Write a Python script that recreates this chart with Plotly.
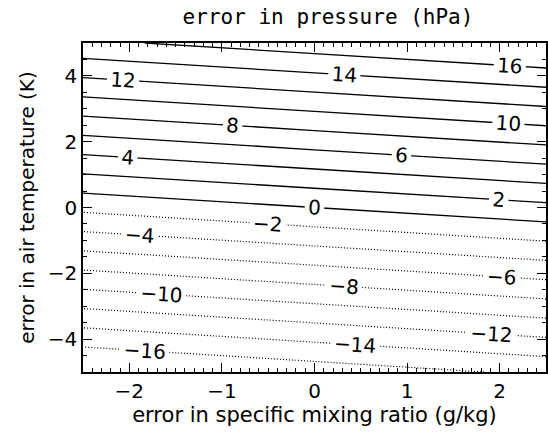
import plotly.graph_objects as go

# error in specific mixing ratio (g/kg)
q_err = [-2.5, 0.0, 2.5]
# error in air temperature (K)
t_err = [-5.0, 0.0, 5.0]
# error in pressure (hPa), rows follow t_err
p_err = [
    [-18.6, -17.1, -15.6],
    [-1.5, 0.0, 1.5],
    [15.6, 17.1, 18.6],
]
neg_levels = (-16, -2, 2)
pos_levels = (0, 16, 2)

FONT = "DejaVu Sans"

fig = go.Figure()
for (start, end, size), dash in [(neg_levels, "1px,2px"), (pos_levels, "solid")]:
    fig.add_trace(go.Contour(
        x=q_err, y=t_err, z=p_err,
        autocontour=False,
        contours=dict(start=start, end=end, size=size, coloring="none",
                      showlabels=True,
                      labelfont=dict(family=FONT, size=20, color="black")),
        line=dict(color="black", width=1.3 if dash == "solid" else 1.2, dash=dash),
        showscale=False, hoverinfo="skip",
    ))

axis_common = dict(
    showgrid=False, zeroline=False, showline=True, linecolor="black", linewidth=1.5,
    mirror="ticks", ticks="inside", ticklen=9, tickwidth=1, tickcolor="black",
    automargin=False,
    tickfont=dict(family=FONT, size=20, color="black"),
)
fig.update_xaxes(range=[-2.5, 2.5], dtick=1, tick0=0,
                 minor=dict(dtick=0.1, ticks="inside", ticklen=4, tickcolor="black"),
                 title=dict(text="error in specific mixing ratio (g/kg)", standoff=6,
                            font=dict(family=FONT, size=21, color="black")),
                 **axis_common)
fig.update_yaxes(range=[-5, 5], dtick=2, tick0=0,
                 minor=dict(dtick=0.5, ticks="inside", ticklen=4, tickcolor="black"),
                 title=dict(text="error in air temperature (K)", standoff=8,
                            font=dict(family=FONT, size=20, color="black")),
                 **axis_common)
fig.update_layout(
    width=548, height=434,
    margin=dict(l=83, r=2, t=43, b=62),
    paper_bgcolor="white", plot_bgcolor="white",
    title=dict(text="error in pressure (hPa)", x=328 / 548, xanchor="center",
               y=1 - 17 / 434, yanchor="middle",
               font=dict(family="DejaVu Sans Mono", size=21, color="black")),
    showlegend=False,
)
fig.write_html("out.html",
               config={"displayModeBar": False},
               post_script="document.body.style.margin='0';document.body.style.overflow='hidden';")
